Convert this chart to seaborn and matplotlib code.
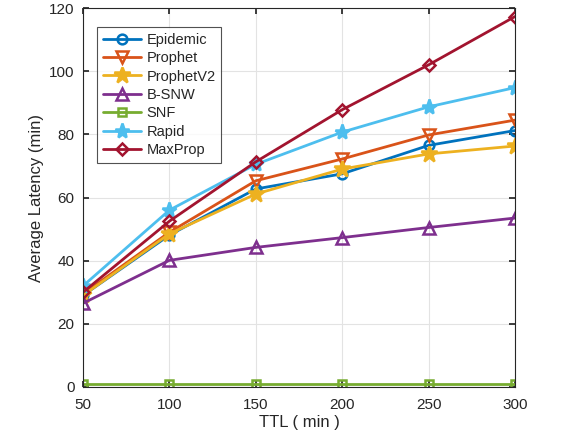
import matplotlib
matplotlib.use("Agg")
import matplotlib.pyplot as plt
import seaborn as sb
import pandas as pd

ttl = [50, 100, 150, 200, 250, 300]
epidemic = [29.0, 48.1, 62.7, 67.5, 76.5, 81.2]
prophet = [29.5, 49.0, 65.3, 72.2, 79.8, 84.5]
prophet_v2 = [29.0, 48.5, 61.1, 69.0, 73.8, 76.3]
b_snw = [26.5, 40.1, 44.2, 47.3, 50.5, 53.5]
snf = [1.0, 1.0, 1.0, 1.0, 1.0, 1.0]
rapid = [32.0, 56.0, 70.5, 80.7, 88.7, 94.8]
maxprop = [30.0, 52.5, 71.3, 87.8, 102.0, 117.3]

series = {
    "Epidemic": epidemic,
    "Prophet": prophet,
    "ProphetV2": prophet_v2,
    "B-SNW": b_snw,
    "SNF": snf,
    "Rapid": rapid,
    "MaxProp": maxprop,
}
colors = ["#0072BD", "#D95319", "#EDB120", "#7E2F8E", "#77AC30", "#4DBEEE", "#A2142F"]
markers = ["o", "v", "*", "^", "s", "*", "D"]
sizes = [7, 8, 12, 8, 6, 11, 6]
filled = [False, False, True, False, False, True, False]

rows = []
for name, vals in series.items():
    for x, y in zip(ttl, vals):
        rows.append([name, x, y])
df = pd.DataFrame(rows, columns=["Method", "TTL", "Latency"])

sb.set_theme(style="ticks")
plt.rcParams['font.family'] = ['Liberation Sans', 'DejaVu Sans']

fig = plt.figure(figsize=(5.81, 4.43), dpi=100)
ax = fig.add_axes([83 / 581, 1 - 387 / 443, 432 / 581, 379 / 443])

for i, name in enumerate(series):
    sub = df[df["Method"] == name]
    sb.lineplot(data=sub, x="TTL", y="Latency", ax=ax, color=colors[i], linewidth=2,
                marker=markers[i], markersize=sizes[i], markeredgewidth=1.8,
                markeredgecolor=colors[i],
                markerfacecolor=colors[i] if filled[i] else "none",
                label=name)

ax.set_xlim(50, 300)
ax.set_ylim(0, 120)
ax.set_xticks(ttl)
ax.set_yticks([0, 20, 40, 60, 80, 100, 120])
ax.grid(True, color="#e3e3e3", linewidth=0.8)
ax.set_axisbelow(True)
for s in ax.spines.values():
    s.set_color("#262626")
    s.set_linewidth(0.8)
ax.tick_params(direction="in", top=True, right=True, labelsize=11, colors="#262626", length=4)
ax.tick_params(axis="x", pad=8)
ax.tick_params(axis="y", pad=6)
ax.set_xlabel("TTL ( min )", fontsize=12, color="#262626", labelpad=2)
ax.set_ylabel("Average Latency (min)", fontsize=12, color="#262626", labelpad=4)

leg = ax.legend(loc="upper left", bbox_to_anchor=(0.032, 0.95), fontsize=10.5, frameon=True,
                fancybox=False, edgecolor="#262626", handlelength=2.6, labelspacing=0.3,
                borderpad=0.4, handletextpad=0.4, borderaxespad=0)
leg.get_frame().set_linewidth(0.8)

fig.savefig("out.png", dpi=100)
